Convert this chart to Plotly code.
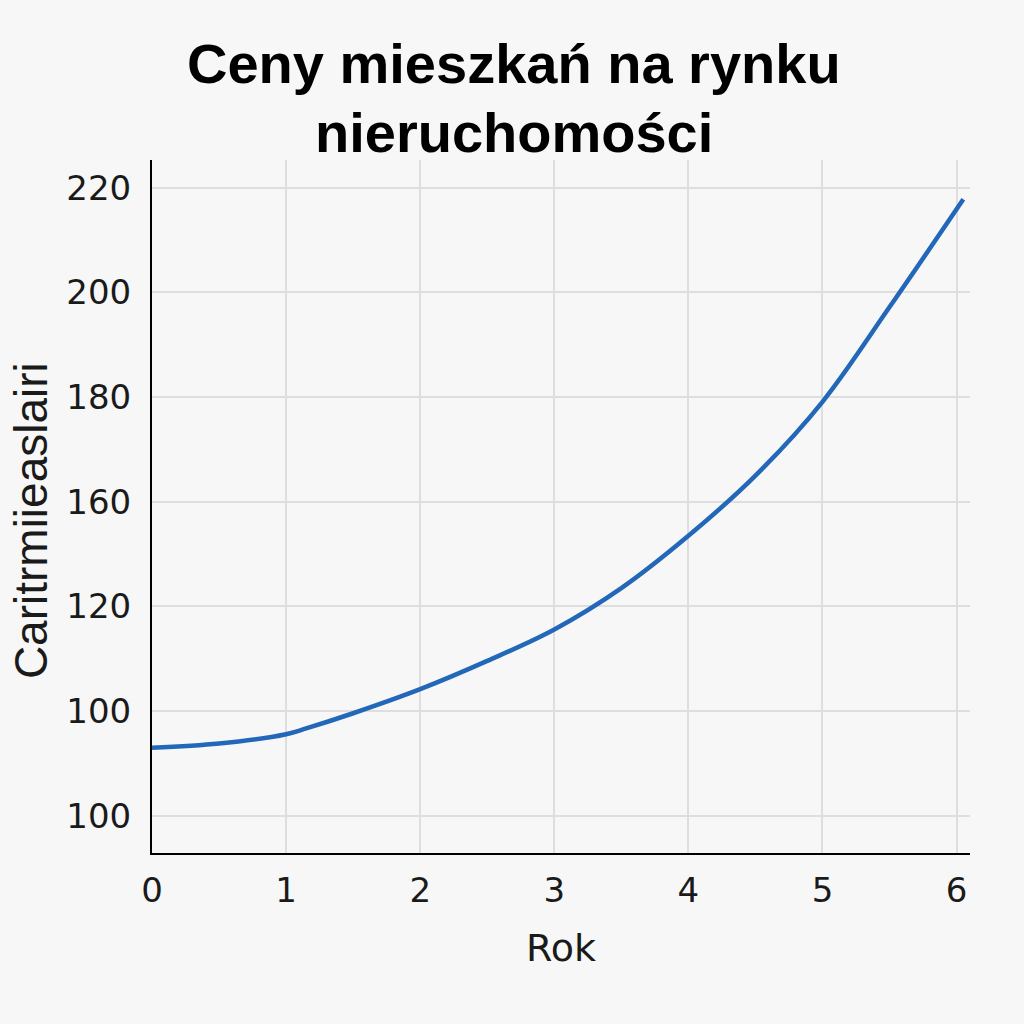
import plotly.graph_objects as go

# Data
years = [0, 0.5, 1, 1.15, 1.5, 2, 2.5, 3, 3.5, 4, 4.5, 5, 5.5, 6.05]
prices = [113.0, 113.8, 115.6, 116.7, 119.6, 124.2, 129.6, 135.6, 143.5, 153.5, 165.0, 179.1, 197.2, 217.8]

x_ticks = [0, 1, 2, 3, 4, 5, 6]
y_tickvals = [100, 120, 140, 160, 180, 200, 220]
y_ticktext = ["100", "100", "120", "160", "180", "200", "220"]

title_lines = ["Ceny mieszkań na rynku", "nieruchomości"]
x_title = "Rok"
y_title = "Caritrmiieaslairi"

BG = "#f7f7f7"
TXT = "#1a1a1a"

fig = go.Figure()
fig.add_trace(go.Scatter(
    x=years, y=prices, mode="lines",
    line=dict(color="#2367b9", width=4.5, shape="spline", smoothing=1.0),
    showlegend=False, hoverinfo="skip",
))

# plot area: x 152..970 px, y 160..853 px
title_font = dict(family="Liberation Sans", size=56, color="#000000", weight="bold")
for line_text, ypos in zip(title_lines, [1.139, 1.040]):
    fig.add_annotation(text=line_text, xref="paper", yref="paper",
                       x=0.443, y=ypos, xanchor="center", yanchor="middle",
                       showarrow=False, font=title_font)

fig.add_annotation(text=y_title, xref="paper", yref="paper",
                   x=-0.147, y=0.48, xanchor="center", yanchor="middle",
                   textangle=-90, showarrow=False,
                   font=dict(family="Liberation Sans", size=46, color=TXT))

fig.update_layout(
    width=1024, height=1024,
    paper_bgcolor=BG, plot_bgcolor=BG,
    margin=dict(l=152, r=54, t=160, b=171),
    xaxis=dict(
        range=[0, 6.1], tickvals=x_ticks, ticktext=[str(v) for v in x_ticks],
        showgrid=True, gridcolor="#dedede", gridwidth=1.5,
        showline=True, linecolor="#000000", linewidth=2,
        zeroline=False, ticks="", ticklabelstandoff=6,
        tickfont=dict(family="DejaVu Sans", size=34, color=TXT),
        title=dict(text=x_title, standoff=26,
                   font=dict(family="DejaVu Sans", size=38, color=TXT)),
    ),
    yaxis=dict(
        range=[92.9, 225.3], tickvals=y_tickvals, ticktext=y_ticktext,
        showgrid=True, gridcolor="#dedede", gridwidth=1.5,
        showline=True, linecolor="#000000", linewidth=2,
        zeroline=False, ticks="", ticklabelstandoff=12,
        tickfont=dict(family="DejaVu Sans", size=34, color=TXT),
    ),
)

fig.write_html("out.html", config={"displayModeBar": False},
               post_script="document.body.style.margin='0';")
